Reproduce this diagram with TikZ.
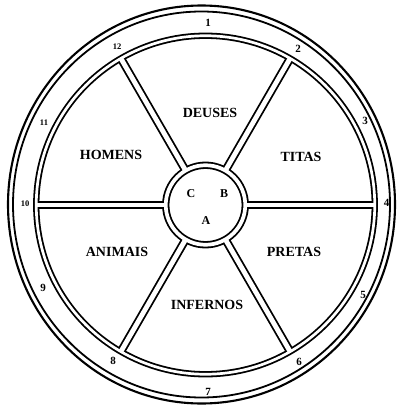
\documentclass[tikz,border=0pt]{standalone}
\usepackage{fontspec}
\setmainfont{Liberation Serif}
\usetikzlibrary{calc}
\begin{document}
\begin{tikzpicture}[x=1pt,y=-1pt,
  rimline/.style={line width=1.8pt},
  chanblack/.style={draw=black,line cap=butt},
  chanwhite/.style={draw=white,line cap=butt},
  realm/.style={font=\fontsize{14}{14}\selectfont\bfseries,inner sep=0pt},
  num/.style={font=\fontsize{11}{11}\selectfont\bfseries,inner sep=0pt},
  smallnum/.style={font=\fontsize{8.5}{8.5}\selectfont\bfseries,inner sep=0pt},
  hubletter/.style={font=\fontsize{12}{12}\selectfont\bfseries,inner sep=0pt}]
\useasboundingbox (0,0) rectangle (399,409);
\coordinate (oc) at (201.5,204.5);
\coordinate (c) at (205.5,205);
% outer rim
\draw[rimline,line width=2.1pt] (oc) circle[x radius=193.5,y radius=199];
\draw[rimline] (oc) circle[x radius=188.5,y radius=193];
% channels: black pass
\draw[chanblack,line width=6.3pt] (c) circle[radius=169.25];
\draw[chanblack,line width=7.3pt] (c) circle[radius=39.75];
\foreach \a in {0,60,...,300}
  \draw[chanblack,line width=8.4pt] ($(c)+(\a:39.75)$) -- ($(c)+(\a:169.25)$);
% channels: white pass
\foreach \a in {0,60,...,300}
  \draw[chanwhite,line width=4.8pt] ($(c)+(\a:39.75)$) -- ($(c)+(\a:169.25)$);
\draw[chanwhite,line width=2.7pt] (c) circle[radius=169.25];
\draw[chanwhite,line width=3.7pt] (c) circle[radius=39.75];
% realm labels
\node[realm] (deuses) at (210,113) {DEUSES};
\node[realm] (titas) at (301,157) {TITAS};
\node[realm] (homens) at (111,155) {HOMENS};
\node[realm] (animais) at (117,252) {ANIMAIS};
\node[realm] (pretas) at (294,252) {PRETAS};
\node[realm] (infernos) at (207,305) {INFERNOS};
% hub letters
\node[hubletter] (hc) at (191,194) {C};
\node[hubletter] (hb) at (224,194) {B};
\node[hubletter] (ha) at (206,221) {A};
% numbers
\node[num] (n1) at (208,23) {1};
\node[num] (n2) at (298,49) {2};
\node[num] (n3) at (365,121) {3};
\node[num] (n4) at (386.5,203) {4};
\node[num] (n5) at (363,295) {5};
\node[num] (n6) at (299,362) {6};
\node[num] (n7) at (208,391.5) {7};
\node[num] (n8) at (113,361) {8};
\node[num] (n9) at (43,288) {9};
\node[smallnum] (n10) at (25,204) {10};
\node[smallnum] (n11) at (44,123) {11};
\node[smallnum] (n12) at (117,47) {12};
\end{tikzpicture}
\end{document}
